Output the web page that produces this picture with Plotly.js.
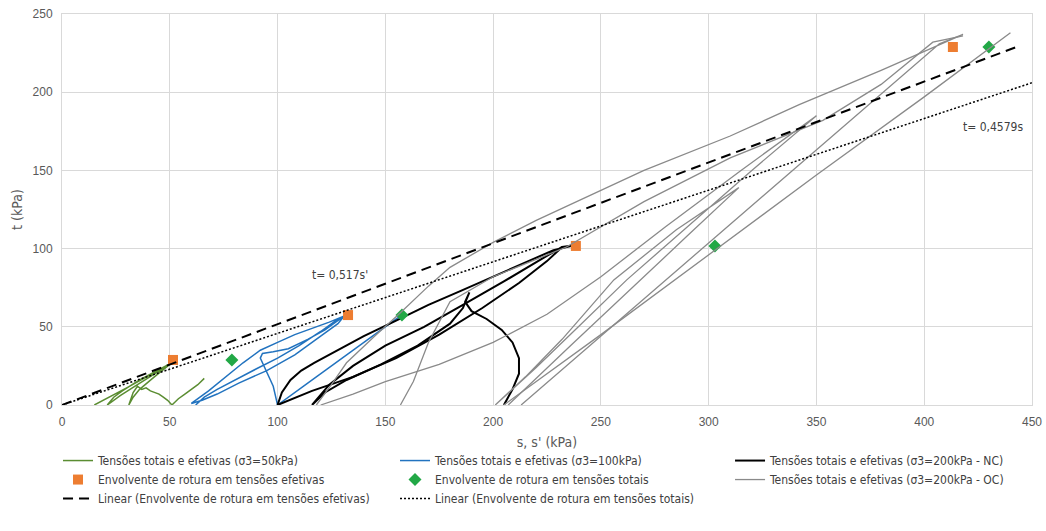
<!DOCTYPE html>
<html>
<head>
<meta charset="utf-8">
<script src="https://cdn.plot.ly/plotly-3.0.1.min.js"></script>
<style>html,body{margin:0;padding:0;background:#fff;}#chart{width:1046px;height:531px;}</style>
</head>
<body>
<div id="chart"></div>
<script>
// ---- Data (s, t in kPa) ----
// σ3 = 50 kPa stress paths
const greenS = [15,22,30,38,46,51, 44,36,28,24,21, 27,35,43,50, 42,36,33,31, 33,35,37,39,41,43,45,47,49,51, 54,57,60,63,66];
const greenT = [0,5,11,17,23,27, 22,16,9,5,0, 6,13,20,26, 17,10,5,0, 8,12,10,11,9,8,7,5,3,0, 4,7,10,13,17];
// σ3 = 100 kPa stress paths
const blueS = [62,66,72,80,90,100,110,120,127,131, 124,116,108,100,92,84,76,68,60, 65,72,82,95,108,120,128,131, 122,114,105,98,93,92,94,96,98,99,100, 114,128,142,157];
const blueT = [0,5,10,16,23,30,38,47,54,57, 53,49,45,40,35,27,18,9,1, 3,7,14,22,32,44,52,57, 48,42,36,34,33,30,24,18,12,6,0, 14,28,42,57];
// σ3 = 200 kPa NC stress paths
const blackS = [100,102,106,111,117,128,140,155,170,185,200,215,228,237, 232,222,205,186,168,150,135,124,116, 122,132,148,165,180,186,189, 187,190,197,204,209,212,212,209,205, null, 100,116,135,155,175,195,212,225,232];
const blackT = [0,8,16,22,27,35,44,54,64,73,82,91,99,102, 101,93,79,64,50,38,25,13,0, 8,16,26,38,52,62,72, 66,60,55,48,40,30,20,10,0, null, 0,9,18,30,45,62,78,92,101];
// σ3 = 200 kPa OC stress paths
const grayS = [118,125,132,145,157,170,180,200,220,240,270,310,342,380,405,418, 407,370,330,285,250,213, null,
               120,135,150,175,200,225,250,280,315,350, 320,290,262,238,220,201, 215,232,256,285,314, 290,262,236,207, null,
               157,163,170,180,200,234,270,310,353,380,404,418, null,
               440,400,350,303,250,205];
const grayT = [0,13,27,44,59,76,88,104,118,131,150,172,192,214,229,237, 231,187,139,86,44,0, null,
               0,7,15,26,40,58,82,114,150,185, 150,114,80,48,24,0, 18,42,80,112,139, 108,72,38,0, null,
               0,15,40,66,82,101,130,158,182,205,232,236, null,
               238,197,147,99,45,0];
// Failure envelope points
const effS = [51.5, 132.7, 238.4, 413.3];
const effT = [28.8, 57.5, 101.7, 228.9];
const totS = [78.8, 157.7, 302.9, 430.0];
const totT = [28.8, 57.5, 101.7, 228.9];
// Linear trend lines
const effSlope = 0.517;
const totSlope = 0.4579;
const effLineS = [0, 443];
const totLineS = [0, 450];

const narrow = "Liberation Sans Narrow, Arial Narrow, DejaVu Sans Condensed, sans-serif";
const tickFont = {family: 'Liberation Sans, Arial, sans-serif', size: 12, color: '#595959'};

const traces = [
  {x: greenS, y: greenT, mode: 'lines', name: 'Tensões totais e efetivas (σ3=50kPa)', line: {color: '#5b8d32', width: 1.5}, legend: 'legend'},
  {x: blueS, y: blueT, mode: 'lines', name: 'Tensões totais e efetivas (σ3=100kPa)', line: {color: '#2273bf', width: 1.5}, legend: 'legend2'},
  {x: blackS, y: blackT, mode: 'lines', name: 'Tensões totais e efetivas (σ3=200kPa - NC)', line: {color: '#000000', width: 2}, legend: 'legend3'},
  {x: effS, y: effT, mode: 'markers', name: 'Envolvente de rotura em tensões efetivas', marker: {symbol: 'square', color: '#ed7d31', size: 10}, legend: 'legend'},
  {x: totS, y: totT, mode: 'markers', name: 'Envolvente de rotura em tensões totais', marker: {symbol: 'diamond', color: '#22a846', size: 10}, legend: 'legend2'},
  {x: grayS, y: grayT, mode: 'lines', name: 'Tensões totais e efetivas (σ3=200kPa - OC)', line: {color: '#8a8a8a', width: 1.3}, legend: 'legend3'},
  {x: effLineS, y: effLineS.map(s => s * effSlope), mode: 'lines', name: 'Linear (Envolvente de rotura em tensões efetivas)', line: {color: '#000000', width: 2, dash: '10px,6px'}, legend: 'legend'},
  {x: totLineS, y: totLineS.map(s => s * totSlope), mode: 'lines', name: 'Linear (Envolvente de rotura em tensões totais)', line: {color: '#000000', width: 1.5, dash: '2px,2px'}, legend: 'legend2'}
];

const legendBase = {
  orientation: 'v', xanchor: 'left', y: -0.105, yanchor: 'top',
  font: {family: narrow, size: 12, color: '#404040'},
  bgcolor: 'rgba(0,0,0,0)', tracegroupgap: 0, traceorder: 'normal'
};

const layout = {
  width: 1046, height: 531,
  margin: {l: 62, r: 14, t: 14, b: 126},
  paper_bgcolor: '#ffffff', plot_bgcolor: '#ffffff',
  showlegend: true,
  font: {family: narrow, color: '#404040', size: 12},
  xaxis: {
    range: [0, 450], dtick: 50, tick0: 0,
    showgrid: true, gridcolor: '#d9d9d9', gridwidth: 1,
    zeroline: false, showline: true, linecolor: '#d9d9d9', mirror: true,
    ticks: 'outside', ticklen: 6, tickcolor: 'rgba(0,0,0,0)', tickfont: tickFont,
    title: {text: "s, s' (kPa)", font: {family: narrow, size: 14, color: '#595959'}, standoff: 8}
  },
  yaxis: {
    range: [0, 250], dtick: 50, tick0: 0,
    showgrid: true, gridcolor: '#d9d9d9', gridwidth: 1,
    zeroline: false, showline: true, linecolor: '#d9d9d9', mirror: true,
    ticks: 'outside', ticklen: 6, tickcolor: 'rgba(0,0,0,0)', tickfont: tickFont,
    title: {text: 't (kPa)', font: {family: narrow, size: 14, color: '#595959'}, standoff: 6}
  },
  legend: Object.assign({}, legendBase, {x: -0.0041}),
  legend2: Object.assign({}, legendBase, {x: 0.3433}),
  legend3: Object.assign({}, legendBase, {x: 0.6887}),
  annotations: [
    {x: 129, y: 83, xref: 'x', yref: 'y', text: "t= 0,517s'", showarrow: false, font: {family: narrow, size: 12, color: '#404040'}},
    {x: 432, y: 178, xref: 'x', yref: 'y', text: 't= 0,4579s', showarrow: false, font: {family: narrow, size: 12, color: '#404040'}}
  ]
};

Plotly.newPlot('chart', traces, layout, {displayModeBar: false, staticPlot: true});
</script>
</body>
</html>
